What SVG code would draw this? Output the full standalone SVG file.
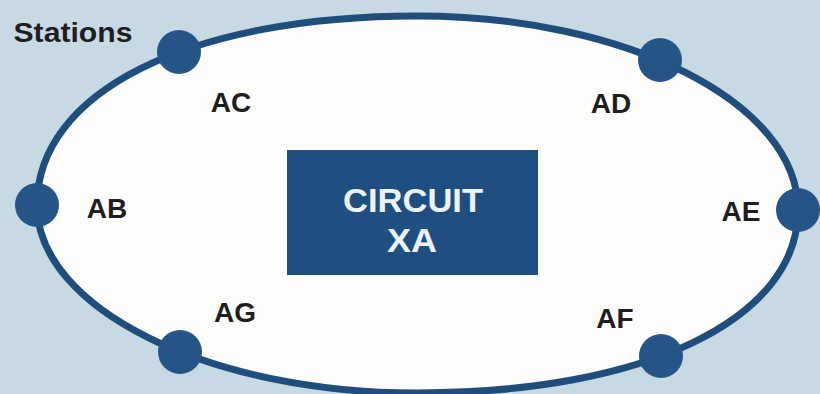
<svg xmlns="http://www.w3.org/2000/svg" width="820" height="394" viewBox="0 0 820 394">
<style>
.lbl{font-family:"Liberation Sans",Arial,sans-serif;font-weight:bold;font-size:28px;fill:#1e1e1e;text-anchor:middle}
.stn{fill:#255587}
.ctext{font-family:"Liberation Sans",Arial,sans-serif;font-weight:bold;font-size:34px;fill:#eef3f7;text-anchor:middle}
</style>
<rect x="0" y="0" width="820" height="394" fill="#c7d9e3"/>
<g id="connectors">
<path d="M37,205 C37,92 189,16 417,16 C627,16 798,103 798,210 C798,319 646,393 417,393 C207,393 37,308 37,205 Z" fill="#fdfdfb" stroke="#1f4d7c" stroke-width="7"/>
</g>
<text class="lbl" x="73" y="42" textLength="119" lengthAdjust="spacingAndGlyphs">Stations</text>
<g id="AC"><circle class="stn" cx="179" cy="52" r="22"/><text class="lbl" x="231" y="112">AC</text></g>
<g id="AD"><circle class="stn" cx="660" cy="60" r="22"/><text class="lbl" x="611" y="113">AD</text></g>
<g id="AB"><circle class="stn" cx="37" cy="205" r="22"/><text class="lbl" x="107" y="218">AB</text></g>
<g id="AE"><circle class="stn" cx="798" cy="210" r="22"/><text class="lbl" x="741" y="221">AE</text></g>
<g id="AG"><circle class="stn" cx="180" cy="352" r="22"/><text class="lbl" x="235" y="322">AG</text></g>
<g id="AF"><circle class="stn" cx="661" cy="356" r="22"/><text class="lbl" x="615" y="328">AF</text></g>
<g id="circuit">
<rect x="287" y="150" width="251" height="125" fill="#1e4f80"/>
<text class="ctext" x="413" y="212" textLength="140" lengthAdjust="spacingAndGlyphs">CIRCUIT</text>
<text class="ctext" x="412" y="252" textLength="50" lengthAdjust="spacingAndGlyphs">XA</text>
</g>
</svg>
